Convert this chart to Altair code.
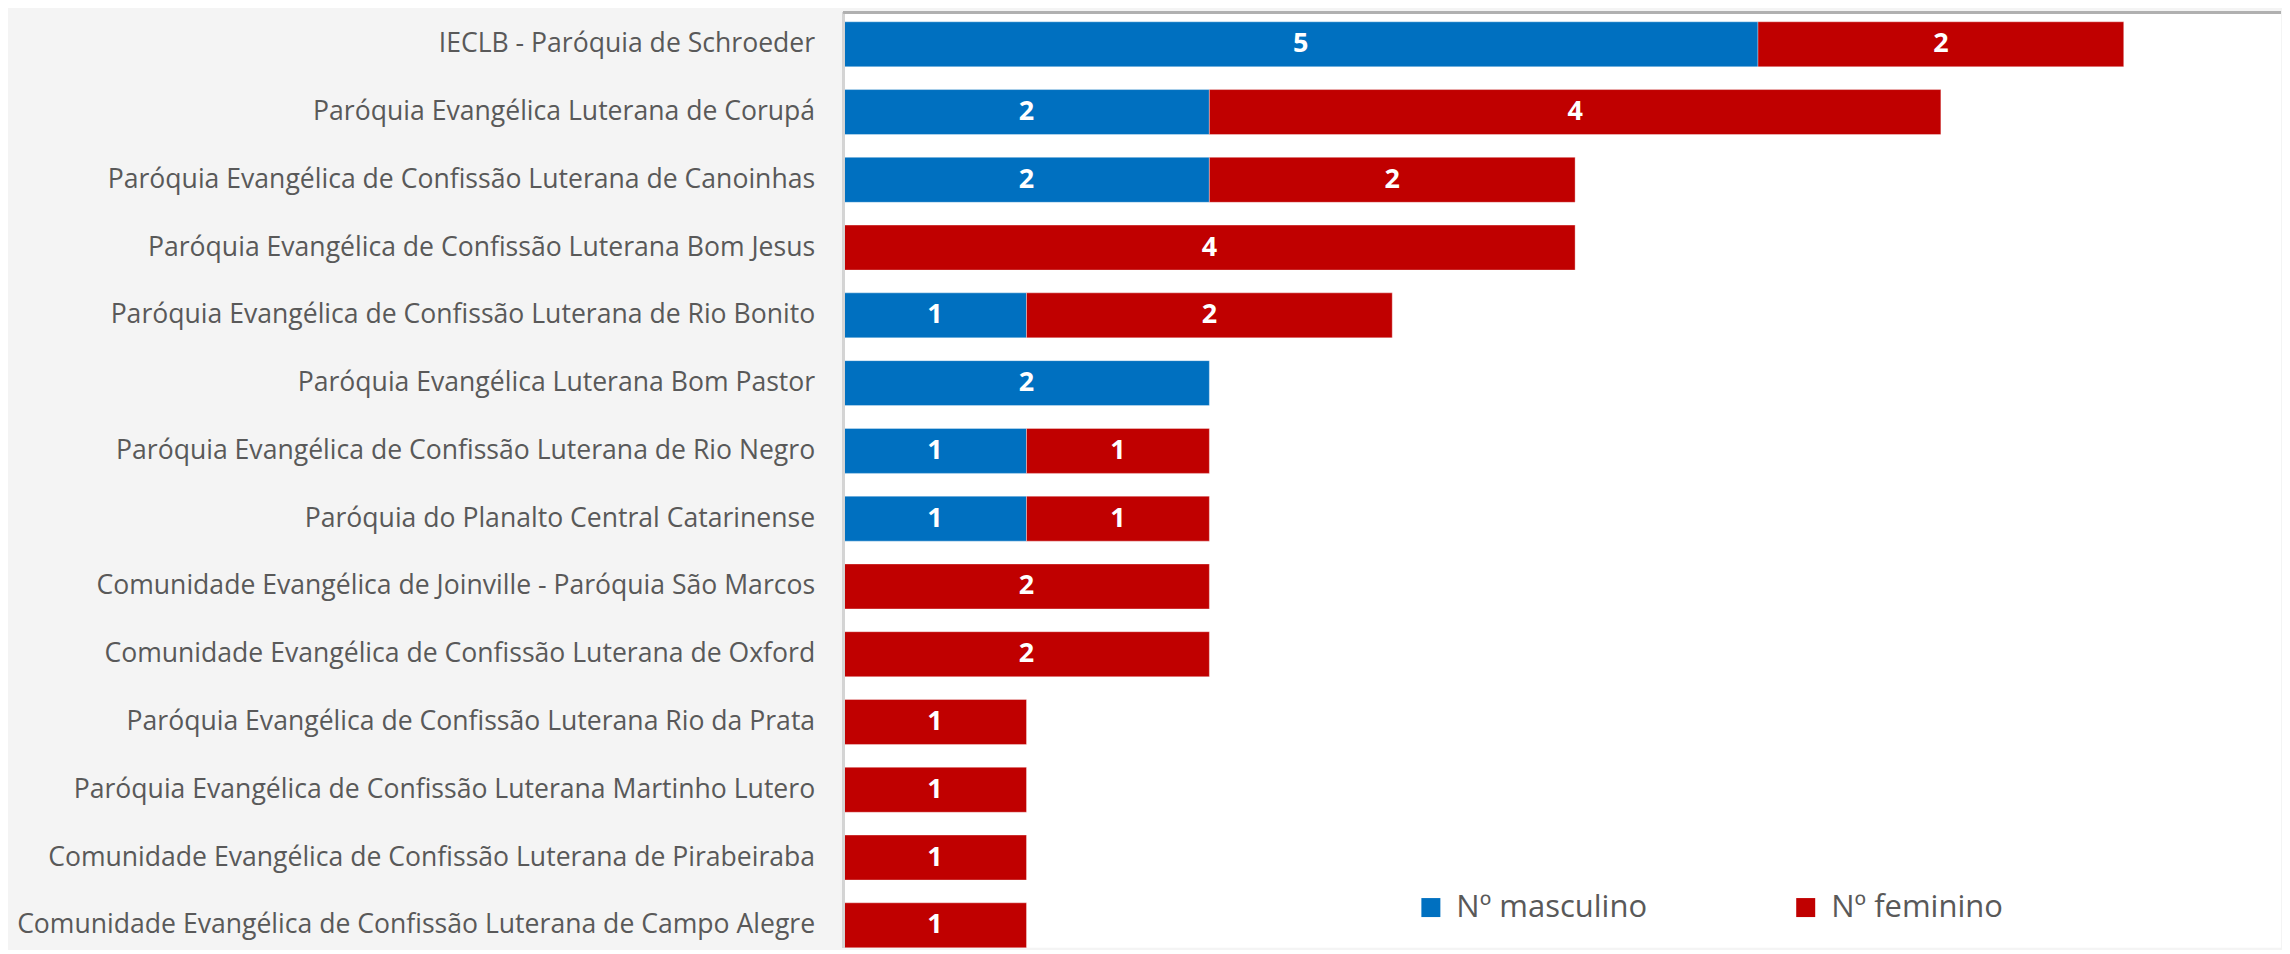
import altair as alt
import pandas as pd

categories = [
    "IECLB - Paróquia de Schroeder",
    "Paróquia Evangélica Luterana de Corupá",
    "Paróquia Evangélica de Confissão Luterana de Canoinhas",
    "Paróquia Evangélica de Confissão Luterana Bom Jesus",
    "Paróquia Evangélica de Confissão Luterana de Rio Bonito",
    "Paróquia Evangélica Luterana Bom Pastor",
    "Paróquia Evangélica de Confissão Luterana de Rio Negro",
    "Paróquia do Planalto Central Catarinense",
    "Comunidade Evangélica de Joinville - Paróquia São Marcos",
    "Comunidade Evangélica de Confissão Luterana de Oxford",
    "Paróquia Evangélica de Confissão Luterana Rio da Prata",
    "Paróquia Evangélica de Confissão Luterana Martinho Lutero",
    "Comunidade Evangélica de Confissão Luterana de Pirabeiraba",
    "Comunidade Evangélica de Confissão Luterana de Campo Alegre",
]
masculino = [5, 2, 2, 0, 1, 2, 1, 1, 0, 0, 0, 0, 0, 0]
feminino = [2, 4, 2, 4, 2, 0, 1, 1, 2, 2, 1, 1, 1, 1]
series = ["Nº masculino", "Nº feminino"]
colors = ["#0070C0", "#C00000"]

W, H = 1438, 936

rows = []
for i, c in enumerate(categories):
    for k, (s, vals) in enumerate(zip(series, [masculino, feminino])):
        if vals[i] > 0:
            rows.append({"cat": c, "serie": s, "valor": vals[i], "ord": k})
df = pd.DataFrame(rows)

base = alt.Chart(df).transform_stack(
    stack="valor", groupby=["cat"], as_=["x0", "x1"],
    sort=[alt.SortField("ord", order="ascending")],
).transform_calculate(mid="(datum.x0 + datum.x1) / 2")

yscale = alt.Scale(paddingInner=0.3363, paddingOuter=0.0707, align=1)
yenc = alt.Y(
    "cat:N", sort=categories, title=None, scale=yscale,
    axis=alt.Axis(labelFontSize=26.6, labelFont="Open Sans", labelColor="#595959",
                  labelPadding=29, ticks=False, domain=False, labelLimit=0,
                  minExtent=836, maxExtent=836),
)
xscale = alt.Scale(domain=[0, 7.86], nice=False, zero=True)

bars = base.mark_bar(stroke="#ffffff", strokeOpacity=0.35, strokeWidth=1).encode(
    y=yenc,
    x=alt.X("x0:Q", scale=xscale, axis=None),
    x2="x1:Q",
    color=alt.Color("serie:N", scale=alt.Scale(domain=series, range=colors),
                    sort=series,
                    legend=alt.Legend(
                        title=None, orient="none", legendX=572, legendY=880,
                        direction="horizontal", columns=2, columnPadding=143,
                        symbolType="square", symbolSize=361, symbolStrokeWidth=0,
                        labelFontSize=31, labelFont="Open Sans", labelColor="#595959",
                        labelOffset=10, labelLimit=0)),
)

labels = base.mark_text(color="white", fontSize=27, fontWeight="bold",
                        font="Open Sans", baseline="middle", align="center").encode(
    y=alt.Y("cat:N", sort=categories, scale=yscale),
    x=alt.X("mid:Q", scale=xscale),
    text=alt.Text("valor:Q"),
)

top_border = alt.Chart(df).mark_rule(color="#b0b0b0", strokeWidth=2).encode(
    x=alt.value(0), x2=alt.value(W), y=alt.value(0))
left_border = alt.Chart(df).mark_rule(color="#d4d4d4", strokeWidth=2.5).encode(
    x=alt.value(0), y=alt.value(0), y2=alt.value(H))

chart = (bars + labels + left_border + top_border).properties(
    width=W, height=H,
    background="#f4f4f4",
    padding={"left": 0, "top": 2, "right": 0, "bottom": 0},
).configure_view(fill="white", strokeWidth=0)

chart.save("out.html", embed_options={"renderer": "svg", "actions": False})
